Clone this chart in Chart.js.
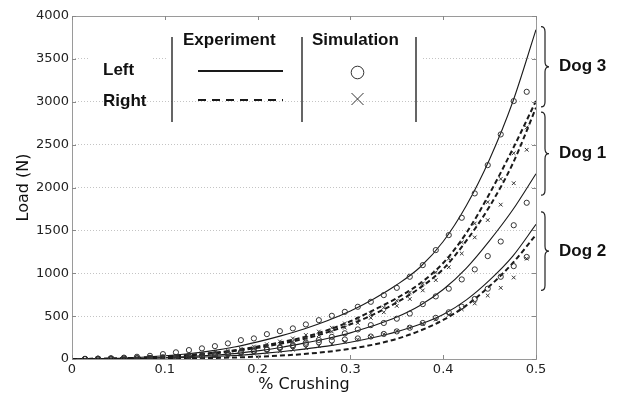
<!DOCTYPE html>
<html><head><meta charset="utf-8">
<script src="https://cdn.jsdelivr.net/npm/chart.js@4.4.0/dist/chart.umd.min.js"></script>
<style>html,body{margin:0;padding:0;background:#fff;}#wrap{width:621px;height:394px;position:relative;}</style>
</head><body><div id="wrap"><canvas id="c" width="621" height="394"></canvas></div>
<script>
// ---- data ----
const xTicks = [0, 0.1, 0.2, 0.3, 0.4, 0.5];
const xTickLabels = ["0", "0.1", "0.2", "0.3", "0.4", "0.5"];
const yTicks = [0, 500, 1000, 1500, 2000, 2500, 3000, 3500, 4000];
const yTickLabels = ["0", "500", "1000", "1500", "2000", "2500", "3000", "3500", "4000"];

const xGrid = [0, 0.025, 0.05, 0.075, 0.1, 0.125, 0.15, 0.175, 0.2, 0.225, 0.25, 0.275, 0.3, 0.325, 0.35, 0.375, 0.4, 0.425, 0.45, 0.475, 0.5];
const dog3LeftExp  = [0, 3, 9, 20, 38, 62, 95, 140, 200, 270, 350, 445, 560, 700, 865, 1070, 1370, 1790, 2330, 3000, 3840];
const dog3RightExp = [0, 2, 7, 15, 28, 46, 70, 102, 145, 195, 255, 335, 440, 570, 710, 880, 1120, 1470, 1930, 2450, 3010];
const dog1RightExp = [0, 2, 6, 13, 25, 41, 63, 92, 130, 178, 235, 310, 405, 520, 660, 830, 1050, 1380, 1780, 2280, 2930];
const dog1LeftExp  = [0, 1, 4, 9, 17, 28, 43, 63, 95, 135, 185, 240, 305, 390, 490, 625, 810, 1060, 1380, 1740, 2160];
const dog2LeftExp  = [0, 1, 3, 6, 11, 18, 27, 40, 60, 85, 115, 150, 195, 250, 318, 405, 520, 690, 920, 1200, 1570];
const dog2RightExp = [0, 0, 1, 3, 5, 8, 12, 18, 27, 40, 58, 84, 120, 168, 235, 330, 455, 625, 850, 1120, 1450];

const simX = [0.014, 0.028, 0.042, 0.056, 0.07, 0.084, 0.098, 0.112, 0.126, 0.14, 0.154, 0.168, 0.182, 0.196, 0.21, 0.224, 0.238, 0.252, 0.266, 0.28, 0.294, 0.308, 0.322, 0.336, 0.35, 0.364, 0.378, 0.392, 0.406, 0.42, 0.434, 0.448, 0.462, 0.476, 0.49];
const dog3LeftSim  = [2, 5, 9, 16, 26, 37, 57, 78, 104, 124, 150, 182, 220, 240, 290, 325, 357, 403, 453, 504, 550, 609, 667, 745, 830, 959, 1095, 1270, 1445, 1647, 1931, 2261, 2619, 3008, 3116];
const dog3RightSim = [1, 3, 5, 9, 14, 20, 28, 38, 50, 64, 80, 98, 120, 145, 172, 205, 240, 280, 320, 365, 415, 470, 530, 600, 680, 775, 880, 1010, 1170, 1360, 1580, 1830, 2100, 2400, 2700];
const dog1LeftSim  = [1, 2, 4, 6, 9, 13, 18, 24, 31, 40, 50, 62, 78, 95, 115, 138, 162, 190, 222, 258, 300, 345, 395, 420, 470, 530, 640, 730, 820, 928, 1045, 1200, 1370, 1560, 1822];
const dog1RightSim = [1, 2, 4, 7, 11, 16, 22, 30, 40, 52, 65, 82, 100, 122, 148, 175, 205, 240, 278, 320, 365, 420, 480, 545, 620, 700, 800, 920, 1070, 1230, 1418, 1620, 1800, 2050, 2440];
const dog2LeftSim  = [1, 2, 3, 5, 8, 12, 17, 23, 30, 38, 48, 60, 74, 90, 108, 128, 150, 172, 195, 215, 228, 240, 262, 292, 322, 365, 420, 480, 545, 610, 700, 820, 959, 1083, 1190];
const dog2RightSim = [0, 1, 2, 3, 5, 7, 10, 14, 19, 25, 32, 40, 50, 62, 75, 90, 108, 128, 150, 175, 200, 228, 258, 290, 325, 365, 410, 460, 515, 580, 648, 740, 830, 950, 1170];

const legendHeaders = ["Experiment", "Simulation"];
const legendRows = ["Left", "Right"];
const dogLabels = ["Dog 3", "Dog 1", "Dog 2"];
const braceRanges = [[3875, 2940], [2880, 1910], [1715, 800]];
const xTitle = "% Crushing";
const yTitle = "Load (N)";

// ---- datasets ----
const INK = '#1a1a1a';
function lineDs(label, ys, dashed) {
  return {
    label, data: xGrid.map((x, i) => ({x, y: ys[i]})),
    borderColor: INK, borderWidth: dashed ? 2 : 1.1,
    borderDash: dashed ? [5, 3] : [], pointRadius: 0,
    cubicInterpolationMode: 'monotone', fill: false, order: 2
  };
}
function simDs(label, ys, style) {
  return {
    label, data: simX.map((x, i) => ({x, y: ys[i]})),
    showLine: false, pointStyle: style, pointRadius: 2.6,
    pointBorderColor: '#333', pointBackgroundColor: 'rgba(0,0,0,0)',
    pointBorderWidth: 1, order: 1
  };
}
const datasets = [
  lineDs('Dog 3 Left', dog3LeftExp, false),
  lineDs('Dog 3 Right', dog3RightExp, true),
  lineDs('Dog 1 Left', dog1LeftExp, false),
  lineDs('Dog 1 Right', dog1RightExp, true),
  lineDs('Dog 2 Left', dog2LeftExp, false),
  lineDs('Dog 2 Right', dog2RightExp, true),
  simDs('Dog 3 Left sim', dog3LeftSim, 'circle'),
  simDs('Dog 3 Right sim', dog3RightSim, 'crossRot'),
  simDs('Dog 1 Left sim', dog1LeftSim, 'circle'),
  simDs('Dog 1 Right sim', dog1RightSim, 'crossRot'),
  simDs('Dog 2 Left sim', dog2LeftSim, 'circle'),
  simDs('Dog 2 Right sim', dog2RightSim, 'crossRot')
];

const annot = {
  id: 'annot',
  afterDraw(chart) {
    const ctx = chart.ctx, ca = chart.chartArea;
    const xs = chart.scales.x, ys = chart.scales.y;
    ctx.save();
    // white backgrounds of legend items
    ctx.fillStyle = '#fff';
    ctx.fillRect(90, 52, 62, 14);
    ctx.fillRect(168, 21, 255, 62);
    // box
    ctx.strokeStyle = '#9a9a9a'; ctx.lineWidth = 1; ctx.setLineDash([]);
    ctx.strokeRect(Math.round(ca.left) + 0.5, Math.round(ca.top) + 0.5, Math.round(ca.right - ca.left), Math.round(ca.bottom - ca.top));
    // inward ticks
    ctx.strokeStyle = '#888';
    ctx.beginPath();
    xTicks.forEach(v => {
      const px = Math.round(xs.getPixelForValue(v)) + 0.5;
      ctx.moveTo(px, ca.top); ctx.lineTo(px, ca.top + 4);
      ctx.moveTo(px, ca.bottom); ctx.lineTo(px, ca.bottom - 4);
    });
    yTicks.forEach(v => {
      const py = Math.round(ys.getPixelForValue(v)) + 0.5;
      ctx.moveTo(ca.left, py); ctx.lineTo(ca.left + 4, py);
      ctx.moveTo(ca.right, py); ctx.lineTo(ca.right - 4, py);
    });
    ctx.stroke();

    // legend
    ctx.fillStyle = '#111';
    ctx.font = 'bold 17px "Liberation Sans", Arial, sans-serif';
    ctx.textBaseline = 'middle';
    ctx.textAlign = 'left';
    ctx.fillText(legendHeaders[0], 183, 40);
    ctx.fillText(legendHeaders[1], 312, 40);
    ctx.fillText(legendRows[0], 103, 70);
    ctx.fillText(legendRows[1], 103, 101);
    // separators
    ctx.strokeStyle = '#333'; ctx.lineWidth = 1.5;
    ctx.beginPath();
    [172, 302, 416].forEach(x => { ctx.moveTo(x, 37); ctx.lineTo(x, 122); });
    ctx.stroke();
    // line samples
    ctx.strokeStyle = INK; ctx.lineWidth = 2;
    ctx.beginPath(); ctx.moveTo(198, 71); ctx.lineTo(283, 71); ctx.stroke();
    ctx.setLineDash([8, 6]);
    ctx.beginPath(); ctx.moveTo(198, 100); ctx.lineTo(283, 100); ctx.stroke();
    ctx.setLineDash([]);
    // marker samples
    ctx.strokeStyle = '#333'; ctx.lineWidth = 1;
    ctx.beginPath(); ctx.arc(357.5, 72.5, 6.3, 0, Math.PI * 2); ctx.stroke();
    ctx.beginPath();
    ctx.moveTo(351.5, 93); ctx.lineTo(363.5, 105);
    ctx.moveTo(363.5, 93); ctx.lineTo(351.5, 105);
    ctx.stroke();

    // braces
    ctx.strokeStyle = '#222'; ctx.lineWidth = 1.2;
    const bx = 541;
    braceRanges.forEach((r, i) => {
      const t = ys.getPixelForValue(r[0]), b = ys.getPixelForValue(r[1]), m = (t + b) / 2;
      ctx.beginPath();
      ctx.moveTo(bx, t);
      ctx.quadraticCurveTo(bx + 4, t, bx + 4, t + 5);
      ctx.lineTo(bx + 4, m - 5);
      ctx.quadraticCurveTo(bx + 4, m, bx + 8, m);
      ctx.quadraticCurveTo(bx + 4, m, bx + 4, m + 5);
      ctx.lineTo(bx + 4, b - 5);
      ctx.quadraticCurveTo(bx + 4, b, bx, b);
      ctx.stroke();
      ctx.fillText(dogLabels[i], 559, m);
    });
    ctx.restore();
  }
};

new Chart(document.getElementById('c'), {
  type: 'line',
  data: { datasets },
  options: {
    responsive: false, animation: false,
    layout: { padding: { top: 16, right: 85, left: 0, bottom: 0 } },
    plugins: { legend: { display: false }, tooltip: { enabled: false } },
    scales: {
      x: {
        type: 'linear', min: 0, max: 0.5,
        afterBuildTicks: s => { s.ticks = xTicks.map(v => ({value: v})); },
        afterFit: s => { s.height = 35; },
        ticks: { callback: (v, i) => xTickLabels[i], color: '#222', padding: 3, maxRotation: 0,
                 font: { family: '"DejaVu Sans", sans-serif', size: 13 } },
        grid: { display: false, drawTicks: false },
        border: { display: false },
        title: { display: true, text: xTitle, color: '#111', padding: { top: 0, bottom: 0 },
                 font: { family: '"DejaVu Sans", sans-serif', size: 16 } }
      },
      y: {
        type: 'linear', min: 0, max: 4000,
        afterBuildTicks: s => { s.ticks = yTicks.map(v => ({value: v})); },
        afterFit: s => { s.width = 72; },
        ticks: { callback: (v, i) => yTickLabels[i], color: '#222', padding: 3,
                 font: { family: '"DejaVu Sans", sans-serif', size: 13 } },
        grid: { color: '#c4c4c4', lineWidth: 1, drawTicks: false },
        border: { display: false, dash: [1, 2] },
        title: { display: true, text: yTitle, color: '#111', padding: { top: 14, bottom: 0 },
                 font: { family: '"DejaVu Sans", sans-serif', size: 16 } }
      }
    }
  },
  plugins: [annot]
});
</script>
</body></html>
